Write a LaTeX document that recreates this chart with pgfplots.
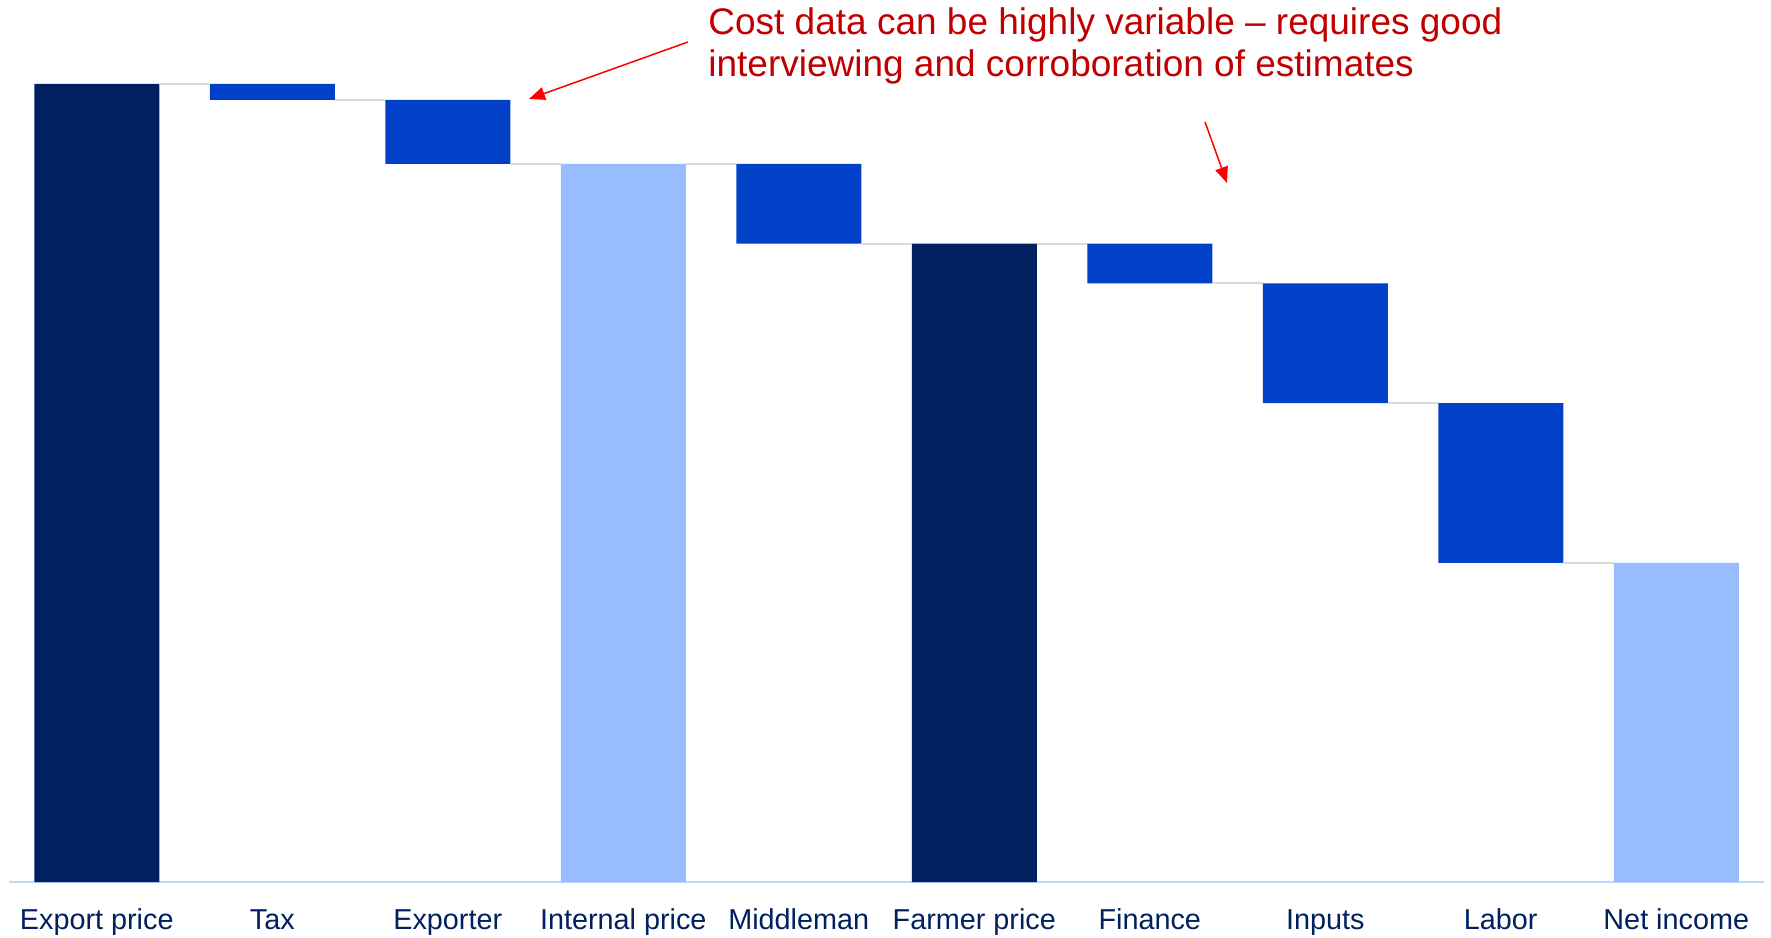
\documentclass[border=0pt]{standalone}
\usepackage{fontspec}
\setmainfont{Liberation Sans}
\usepackage{pgfplots}
\pgfplotsset{compat=1.18}
\usetikzlibrary{arrows.meta}
\definecolor{navy}{HTML}{002060}
\definecolor{midblue}{HTML}{0041C8}
\definecolor{lightblue}{HTML}{99BBFF}
\definecolor{anncol}{HTML}{C00000}
\definecolor{axcol}{HTML}{C0D5FF}
\definecolor{conn}{HTML}{D9D9D9}
\begin{document}
\begin{tikzpicture}
\path[use as bounding box] (0,0) rectangle (885.5pt,468.5pt);
\begin{axis}[
  at={(4.5pt,27.5pt)}, anchor=south west,
  scale only axis, width=877.5pt, height=399pt,
  xmin=-0.5, xmax=9.5, ymin=0, ymax=100,
  ybar stacked, bar width=62.5pt,
  axis line style={draw=none},
  ytick=\empty,
  xtick={0,...,9},
  xticklabels={Export price, Tax, Exporter, Internal price, Middleman, Farmer price, Finance, Inputs, Labor, Net income},
  major tick length=0pt,
  xticklabel style={font=\fontsize{14.4}{16}\selectfont, text=navy, anchor=base, yshift=-23.5pt, inner sep=0pt},
  clip=false,
]
\addplot[fill=none, draw=none] coordinates {(0,0) (1,98) (2,90) (3,0) (4,80) (5,0) (6,75) (7,60) (8,40) (9,0)};
\addplot[fill=navy, draw=none] coordinates {(0,100) (1,0) (2,0) (3,0) (4,0) (5,80) (6,0) (7,0) (8,0) (9,0)};
\addplot[fill=lightblue, draw=none] coordinates {(0,0) (1,0) (2,0) (3,90) (4,0) (5,0) (6,0) (7,0) (8,0) (9,40)};
\addplot[fill=midblue, draw=none] coordinates {(0,0) (1,2) (2,8) (3,0) (4,10) (5,0) (6,5) (7,15) (8,20) (9,0)};
\draw[axcol, line width=1pt] (rel axis cs:0,0) -- (rel axis cs:1,0);
\end{axis}
\begin{axis}[
  at={(4.5pt,27.5pt)}, anchor=south west,
  scale only axis, width=877.5pt, height=399pt,
  xmin=-0.5, xmax=9.5, ymin=0, ymax=100,
  hide axis, clip=false, unbounded coords=jump,
]
\addplot[conn, line width=1pt, mark=none] coordinates {
 (0.356,100) (0.644,100) (0.7,nan)
 (1.356,98) (1.644,98) (1.7,nan)
 (2.356,90) (2.644,90) (2.7,nan)
 (3.356,90) (3.644,90) (3.7,nan)
 (4.356,80) (4.644,80) (4.7,nan)
 (5.356,80) (5.644,80) (5.7,nan)
 (6.356,75) (6.644,75) (6.7,nan)
 (7.356,60) (7.644,60) (7.7,nan)
 (8.356,40) (8.644,40)
};
\end{axis}
\node[anchor=base west, inner sep=0pt, text=anncol, font=\fontsize{18.5}{22}\selectfont] at (354pt,451pt) {Cost data can be highly variable -- requires good};
\node[anchor=base west, inner sep=0pt, text=anncol, font=\fontsize{18.5}{22}\selectfont] at (354pt,430pt) {interviewing and corroboration of estimates};
\draw[red, line width=0.75pt, -{Triangle[length=8pt,width=6.5pt]}] (344pt,447.5pt) -- (264.5pt,419pt);
\draw[red, line width=0.75pt, -{Triangle[length=8pt,width=6.5pt]}] (602.5pt,407.5pt) -- (613.5pt,377pt);
\end{tikzpicture}
\end{document}
